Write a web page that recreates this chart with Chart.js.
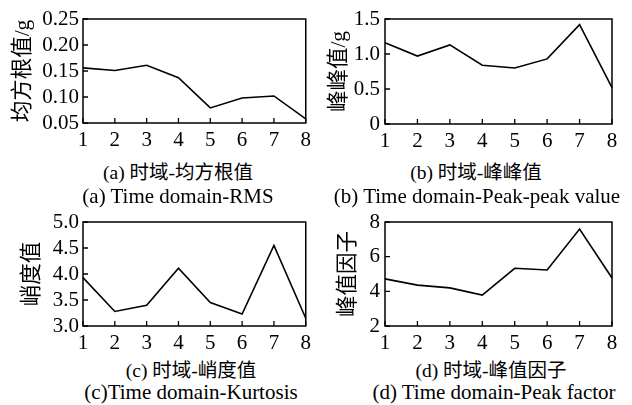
<!DOCTYPE html>
<html>
<head>
<meta charset="utf-8">
<script src="https://cdn.jsdelivr.net/npm/chart.js@4"></script>
<style>
  html, body { margin: 0; padding: 0; background: #fff; }
  body { width: 632px; height: 405px; position: relative; overflow: hidden; }
  canvas { position: absolute; }
  .cap { position: absolute; width: 320px; text-align: center; color: #000; white-space: nowrap; }
  .zh { font-family: 'Liberation Serif', 'Noto Sans CJK SC', serif; font-size: 19.5px; line-height: 22px; }
  .en { font-family: 'Liberation Serif', serif; font-size: 21px; line-height: 22px; }
</style>
</head>
<body>
<canvas id="ca" width="316" height="150" style="left:0;top:0"></canvas>
<canvas id="cb" width="316" height="150" style="left:316px;top:0"></canvas>
<canvas id="cc" width="316" height="150" style="left:0;top:200px"></canvas>
<canvas id="cd" width="316" height="150" style="left:316px;top:200px"></canvas>

<div class="cap zh" style="left:18px;top:162px">(a) 时域-均方根值</div>
<div class="cap en" style="left:18px;top:185px">(a) Time domain-RMS</div>
<div class="cap zh" style="left:316px;top:162px">(b) 时域-峰峰值</div>
<div class="cap en" style="left:317px;top:185px">(b) Time domain-Peak-peak value</div>
<div class="cap zh" style="left:31px;top:360px">(c) 时域-峭度值</div>
<div class="cap en" style="left:31px;top:381px">(c)Time domain-Kurtosis</div>
<div class="cap zh" style="left:331px;top:360px">(d) 时域-峰值因子</div>
<div class="cap en" style="left:334px;top:381px">(d) Time domain-Peak factor</div>

<script>
// ---- data ----
const categories = ['1', '2', '3', '4', '5', '6', '7', '8'];
const rmsValues = [0.156, 0.151, 0.161, 0.137, 0.079, 0.098, 0.102, 0.058];
const peakPeakValues = [1.16, 0.97, 1.13, 0.84, 0.80, 0.93, 1.42, 0.52];
const kurtosisValues = [3.93, 3.28, 3.40, 4.11, 3.45, 3.23, 4.55, 3.15];
const peakFactorValues = [4.72, 4.36, 4.20, 3.78, 5.33, 5.23, 7.59, 4.77];
const rmsTicks = [0.05, 0.10, 0.15, 0.20, 0.25];
const rmsTickLabels = ['0.05', '0.10', '0.15', '0.20', '0.25'];
const peakPeakTicks = [0, 0.5, 1.0, 1.5];
const peakPeakTickLabels = ['0', '0.5', '1.0', '1.5'];
const kurtosisTicks = [3.0, 3.5, 4.0, 4.5, 5.0];
const kurtosisTickLabels = ['3.0', '3.5', '4.0', '4.5', '5.0'];
const peakFactorTicks = [2, 4, 6, 8];
const peakFactorTickLabels = ['2', '4', '6', '8'];
const yTitles = ['均方根值/g', '峰峰值/g', '峭度值', '峰值因子'];

const boxPlugin = {
  id: 'boxTicks',
  afterDraw(chart) {
    const ctx = chart.ctx, a = chart.chartArea;
    const xs = chart.scales.x, ys = chart.scales.y;
    ctx.save();
    ctx.strokeStyle = '#000';
    ctx.lineWidth = 1.5;
    ctx.strokeRect(a.left, a.top, a.right - a.left, a.bottom - a.top);
    ctx.lineWidth = 1.3;
    ctx.beginPath();
    for (let i = 0; i < xs.ticks.length; i++) {
      const x = xs.getPixelForTick(i);
      ctx.moveTo(x, a.bottom);
      ctx.lineTo(x, a.bottom - 5);
    }
    for (let i = 0; i < ys.ticks.length; i++) {
      const y = ys.getPixelForTick(i);
      ctx.moveTo(a.left, y);
      ctx.lineTo(a.left + 5, y);
    }
    ctx.stroke();
    ctx.restore();
  }
};

function make(id, values, ticks, tickLabels, title, area, titlePad, labelPad) {
  const cv = document.getElementById(id);
  const H = cv.height, W = cv.width;
  return new Chart(cv, {
    type: 'line',
    data: {
      labels: categories,
      datasets: [{
        data: values,
        borderColor: '#000',
        borderWidth: 1.6,
        pointRadius: 0,
        tension: 0,
        fill: false
      }]
    },
    options: {
      responsive: false,
      animation: false,
      events: [],
      layout: { padding: { top: area.t, right: W - area.r, left: 0, bottom: 0 } },
      plugins: { legend: { display: false }, tooltip: { enabled: false } },
      scales: {
        x: {
          type: 'category',
          offset: false,
          grid: { display: false, drawTicks: false },
          border: { display: false },
          ticks: {
            color: '#000',
            padding: 5,
            maxRotation: 0,
            autoSkip: false,
            font: { family: "'Liberation Serif', serif", size: 21 }
          },
          afterFit(s) { s.height = H - area.b; }
        },
        y: {
          min: ticks[0],
          max: ticks[ticks.length - 1],
          grid: { display: false, drawTicks: false },
          border: { display: false },
          afterBuildTicks(s) { s.ticks = ticks.map(v => ({ value: v })); },
          ticks: {
            color: '#000',
            padding: labelPad,
            autoSkip: false,
            font: { family: "'Liberation Serif', serif", size: 21 },
            callback(v) {
              const k = ticks.findIndex(t => Math.abs(t - v) < 1e-9);
              return k >= 0 ? tickLabels[k] : '';
            }
          },
          title: {
            display: true,
            text: title,
            color: '#000',
            padding: { top: titlePad, bottom: 0 },
            font: { family: "'Liberation Serif', 'Noto Sans CJK SC', serif", size: 21.5 }
          },
          afterFit(s) { s.width = area.l; }
        }
      }
    },
    plugins: [boxPlugin]
  });
}

make('ca', rmsValues, rmsTicks, rmsTickLabels, yTitles[0], { l: 83, t: 19, r: 310, b: 123 }, 10, 4);
make('cb', peakPeakValues, peakPeakTicks, peakPeakTickLabels, yTitles[1], { l: 69, t: 19, r: 296, b: 124 }, 10, 5);
make('cc', kurtosisValues, kurtosisTicks, kurtosisTickLabels, yTitles[2], { l: 83, t: 22, r: 310, b: 126 }, 19, 4);
make('cd', peakFactorValues, peakFactorTicks, peakFactorTickLabels, yTitles[3], { l: 69, t: 22, r: 296, b: 126 }, 19, 5);
</script>
</body>
</html>
